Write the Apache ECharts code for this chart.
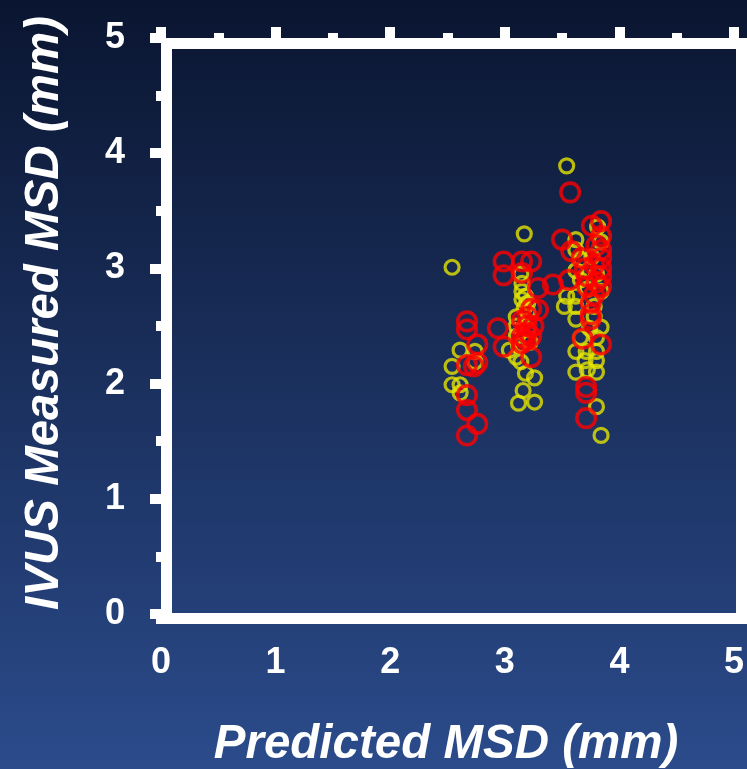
<!DOCTYPE html>
<html>
<head>
<meta charset="utf-8">
<script src="https://cdn.jsdelivr.net/npm/echarts@6/dist/echarts.min.js"></script>
<style>
html,body{margin:0;padding:0;width:747px;height:769px;overflow:hidden;}
#c{width:747px;height:769px;}
</style>
</head>
<body>
<div id="c"></div>
<script>
const xTicks = [0, 1, 2, 3, 4, 5];
const yTicks = [0, 1, 2, 3, 4, 5];
const xTitle = 'Predicted MSD (mm)';
const yTitle = 'IVUS Measured MSD (mm)';

const yellowPoints = [
  [2.54,3.01],[2.61,2.29],[2.74,2.28],[2.54,2.15],[2.74,2.19],[2.54,1.99],[2.61,1.99],[2.61,1.92],
  [3.17,3.30],[3.15,2.87],[3.15,2.80],[3.15,2.73],[3.17,2.66],[3.10,2.58],[3.10,2.50],[3.10,2.41],
  [3.12,2.33],[3.04,2.29],[3.10,2.23],[3.14,2.19],[3.18,2.09],[3.26,2.05],[3.16,1.94],[3.12,1.83],
  [3.26,1.84],[3.20,2.62],[3.22,2.36],[3.20,2.47],[3.18,2.76],[3.14,2.95],[3.20,2.70],
  [3.54,3.89],[3.81,3.36],[3.84,3.23],[3.62,3.25],[3.62,3.16],[3.66,3.08],[3.62,2.98],[3.66,2.90],
  [3.54,2.76],[3.62,2.76],[3.52,2.67],[3.62,2.67],[3.78,2.67],[3.62,2.56],[3.78,2.58],[3.84,2.49],
  [3.74,2.48],[3.62,2.28],[3.71,2.28],[3.80,2.28],[3.70,2.20],[3.80,2.20],[3.62,2.10],[3.80,2.10],
  [3.72,2.12],[3.80,1.80],[3.84,1.55],[3.76,3.10],[3.80,2.95],[3.72,2.82],[3.84,2.80],[3.80,2.40],[3.66,2.40]
];

const redPoints = [
  [2.67,2.54],[2.67,2.47],[2.76,2.34],[2.67,2.16],[2.76,2.18],[2.73,2.15],[2.67,1.90],[2.67,1.77],
  [2.76,1.65],[2.67,1.55],
  [2.99,3.06],[2.99,2.94],[2.94,2.48],[2.99,2.32],[3.15,3.06],[3.23,3.06],[3.15,2.96],[3.29,2.83],
  [3.42,2.86],[3.23,2.65],[3.29,2.64],[3.15,2.55],[3.19,2.50],[3.19,2.44],[3.15,2.41],[3.23,2.41],
  [3.15,2.35],[3.23,2.23],[3.20,2.58],[3.25,2.50],[3.18,2.38],
  [3.57,3.66],[3.84,3.41],[3.76,3.37],[3.50,3.25],[3.58,3.15],[3.84,3.28],[3.56,2.90],[3.84,3.16],
  [3.84,3.09],[3.78,3.03],[3.84,3.00],[3.67,3.09],[3.70,3.00],[3.72,2.93],[3.84,2.93],[3.72,2.84],
  [3.84,2.84],[3.78,2.77],[3.75,2.70],[3.75,2.60],[3.75,2.56],[3.68,2.39],[3.84,2.34],[3.71,1.97],
  [3.71,1.92],[3.71,1.70],[3.80,3.20],[3.80,2.88]
];

const chart = echarts.init(document.getElementById('c'), null, {renderer: 'canvas'});
const labelFont = {color: '#ffffff', fontFamily: 'Liberation Sans, Arial, sans-serif', fontWeight: 'bold', fontSize: 36};
const tickStyle = {color: '#ffffff', width: 10};
const xMin = xTicks[0], xMax = xTicks[xTicks.length - 1];
const yMin = yTicks[0], yMax = yTicks[yTicks.length - 1];

chart.setOption({
  animation: false,
  backgroundColor: new echarts.graphic.LinearGradient(0, 0, 0, 1, [
    {offset: 0, color: '#0a1530'},
    {offset: 1, color: '#2b4b8b'}
  ]),
  grid: {left: 161, top: 38, width: 576, height: 576, show: false},
  xAxis: [
    {
      type: 'value', position: 'bottom', min: xMin, max: xMax, interval: 1, offset: 10,
      axisLine: {show: false},
      axisTick: {show: true, length: 10, lineStyle: tickStyle},
      minorTick: {show: true, splitNumber: 2, length: 4, lineStyle: tickStyle},
      splitLine: {show: false},
      axisLabel: Object.assign({margin: 21, formatter: v => String(v)}, labelFont)
    },
    {
      type: 'value', position: 'top', min: xMin, max: xMax, interval: 1,
      axisLine: {show: false},
      axisTick: {show: true, length: 11, lineStyle: tickStyle},
      minorTick: {show: true, splitNumber: 2, length: 5, lineStyle: tickStyle},
      splitLine: {show: false},
      axisLabel: {show: false}
    }
  ],
  yAxis: [
    {
      type: 'value', position: 'left', min: yMin, max: yMax, interval: 1,
      axisLine: {show: false},
      axisTick: {show: true, length: 11, lineStyle: tickStyle},
      minorTick: {show: true, splitNumber: 2, length: 5, lineStyle: tickStyle},
      splitLine: {show: false},
      axisLabel: Object.assign({margin: 36, formatter: v => String(v)}, labelFont)
    }
  ],
  graphic: [
    {
      type: 'rect', z: 100,
      shape: {x: 166.5, y: 43.5, width: 575, height: 575},
      style: {fill: 'none', stroke: '#ffffff', lineWidth: 11}
    },
    {
      type: 'text', x: 446, y: 745, z: 100,
      style: {text: xTitle, fill: '#ffffff', font: 'italic bold 47.5px "Liberation Sans", Arial, sans-serif',
        textAlign: 'center', textVerticalAlign: 'middle'}
    },
    {
      type: 'text', x: 45, y: 313, rotation: Math.PI / 2, z: 100,
      style: {text: yTitle, fill: '#ffffff', font: 'italic bold 47.5px "Liberation Sans", Arial, sans-serif',
        textAlign: 'center', textVerticalAlign: 'middle'}
    }
  ],
  series: [
    {
      type: 'scatter', xAxisIndex: 0, yAxisIndex: 0, data: yellowPoints,
      symbol: 'circle', symbolSize: 14,
      itemStyle: {color: 'rgba(0,0,0,0)', borderColor: '#e4e400', borderWidth: 3.2}
    },
    {
      type: 'scatter', xAxisIndex: 0, yAxisIndex: 0, data: redPoints,
      symbol: 'circle', symbolSize: 18.5,
      itemStyle: {color: 'rgba(0,0,0,0)', borderColor: '#ff0000', borderWidth: 3.6}
    }
  ]
});
</script>
</body>
</html>
